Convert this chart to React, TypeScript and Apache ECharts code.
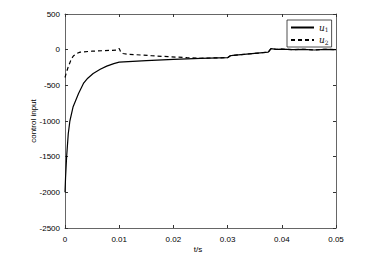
import React, { useEffect, useRef } from "react";
import * as echarts from "echarts";

const u1T = [0, 0.0001, 0.0003, 0.0006, 0.0009, 0.0015, 0.0025, 0.0034, 0.0042, 0.0052, 0.0065, 0.0077, 0.009, 0.01, 0.015, 0.02, 0.025, 0.03, 0.0305, 0.031, 0.0375, 0.038, 0.039, 0.04, 0.042, 0.044, 0.046, 0.048, 0.05];
const u1V = [-2000, -1800, -1500, -1180, -1000, -800, -614, -474, -400, -334, -275, -231, -195, -175, -155, -135, -122, -112, -85, -80, -35, 15, 5, 8, 0, 5, -5, 5, 0];

const u2T = [0, 0.0003, 0.0006, 0.0012, 0.0016, 0.0021, 0.0028, 0.005, 0.0095, 0.01, 0.0103, 0.0107, 0.0117, 0.013, 0.016, 0.019, 0.0225, 0.025, 0.03, 0.0305, 0.031, 0.0375, 0.038, 0.039, 0.04, 0.042, 0.044, 0.046, 0.048, 0.05];
const u2V = [-390, -310, -240, -124, -85, -54, -35, -21, -7, 17, -35, -54, -65, -70, -85, -98, -112, -120, -112, -85, -80, -35, 15, 5, 8, 0, 5, -5, 5, 0];

const seriesNames = ["u1", "u2"];
const xTicks = [0, 0.01, 0.02, 0.03, 0.04, 0.05];

const font = "Liberation Sans, Arial, sans-serif";
const axisColor = "#666";

export default function App() {
  const ref = useRef<HTMLDivElement>(null);
  useEffect(() => {
    if (!ref.current) return;
    const chart = echarts.init(ref.current, undefined, { renderer: "svg" });
    const xBase = {
      type: "value" as const,
      min: 0,
      max: 0.05,
      interval: 0.01,
      axisLine: { show: true, onZero: false, lineStyle: { color: axisColor, width: 1 } },
      axisTick: { show: true, inside: true, length: 3, lineStyle: { color: "#333" } },
      splitLine: { show: false },
    };
    const yBase = {
      type: "value" as const,
      min: -2500,
      max: 500,
      interval: 500,
      axisLine: { show: true, onZero: false, lineStyle: { color: axisColor, width: 1 } },
      axisTick: { show: true, inside: true, length: 3, lineStyle: { color: "#333" } },
      splitLine: { show: false },
    };
    chart.setOption({
      animation: false,
      backgroundColor: "#fff",
      grid: { left: 65, right: 40, top: 14, bottom: 33 },
      xAxis: [
        {
          ...xBase,
          position: "bottom",
          axisLabel: {
            color: "#000",
            fontFamily: font,
            fontSize: 8,
            margin: 7,
            formatter: (v: number) => {
              const t = xTicks.find((x) => Math.abs(x - v) < 1e-9);
              return t === 0 ? "0" : (t ?? v).toFixed(2);
            },
          },
        },
        { ...xBase, position: "top", axisLabel: { show: false } },
      ],
      yAxis: [
        {
          ...yBase,
          position: "left",
          axisLabel: { color: "#000", fontFamily: font, fontSize: 8, margin: 5, formatter: (v: number) => String(v) },
        },
        { ...yBase, position: "right", axisLabel: { show: false } },
      ],
      legend: {
        left: 287,
        top: 20,
        orient: "vertical",
        backgroundColor: "#fff",
        borderColor: "#222",
        borderWidth: 0.8,
        borderRadius: 0,
        padding: [3, 3, 2, 3],
        itemGap: 3,
        itemWidth: 23,
        itemHeight: 8,
        itemStyle: { opacity: 0 },
        data: seriesNames,
        formatter: (name: string) => `{u|u}{s|${name.slice(1)}}`,
        textStyle: {
          rich: {
            u: { fontFamily: "DejaVu Serif, serif", fontStyle: "italic", fontSize: 9, color: "#111" },
            s: { fontFamily: "DejaVu Serif, serif", fontSize: 6, color: "#111", verticalAlign: "bottom", padding: [4, 0, 0, 0] },
          },
        },
      },
      graphic: [
        {
          type: "text",
          x: 33,
          y: 121,
          rotation: Math.PI / 2,
          style: {
            text: "control input",
            fontFamily: font,
            fontSize: 8,
            fill: "#000",
            align: "center",
            verticalAlign: "middle",
          },
        },
        {
          type: "text",
          x: 198,
          y: 249,
          style: {
            text: "t/s",
            fontFamily: font,
            fontSize: 8,
            fill: "#000",
            align: "center",
            verticalAlign: "middle",
          },
        },
      ],
      series: [
        {
          name: seriesNames[0],
          type: "line",
          symbol: "none",
          data: u1T.map((t, i) => [t, u1V[i]]),
          lineStyle: { color: "#000", width: 1.2, type: "solid" },
          itemStyle: { color: "#000" },
          z: 3,
        },
        {
          name: seriesNames[1],
          type: "line",
          symbol: "none",
          data: u2T.map((t, i) => [t, u2V[i]]),
          lineStyle: { color: "#000", width: 1.2, type: [4, 3] },
          itemStyle: { color: "#000" },
          z: 2,
        },
      ],
    });
    return () => chart.dispose();
  }, []);
  return <div ref={ref} style={{ width: 376, height: 261, margin: -8 }} />;
}
